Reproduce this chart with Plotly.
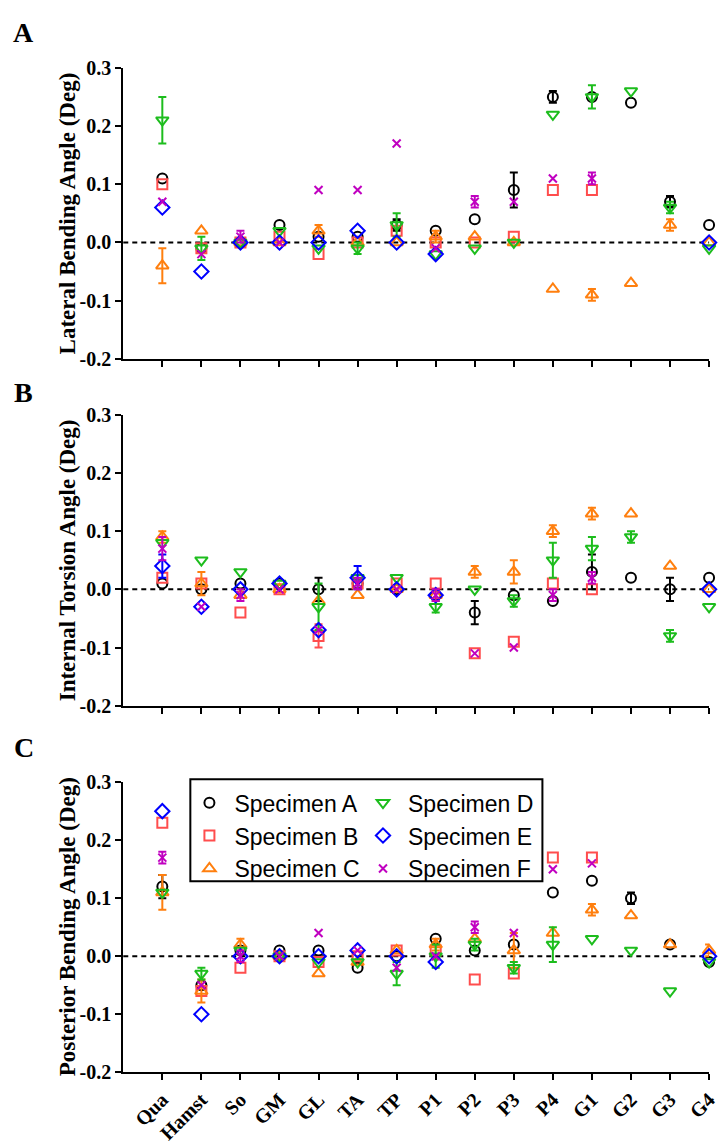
import plotly.graph_objects as go

# ---------------- data ----------------
categories = ["Qua", "Hamst", "So", "GM", "GL", "TA", "TP", "P1", "P2", "P3",
              "P4", "G1", "G2", "G3", "G4"]
specimens = ["Specimen A", "Specimen B", "Specimen C",
             "Specimen D", "Specimen E", "Specimen F"]
ytick_vals = [-0.2, -0.1, 0.0, 0.1, 0.2, 0.3]
ytick_text = ["-0.2", "-0.1", "0.0", "0.1", "0.2", "0.3"]
panel_letters = ["A", "B", "C"]
panel_titles = ["Lateral Bending Angle (Deg)",
                "Internal Torsion Angle (Deg)",
                "Posterior Bending Angle (Deg)"]
N = None

# Panel A: lateral bending
lat_A = [0.11, -0.01, 0.00, 0.03, 0.01, 0.01, 0.03, 0.02, 0.04, 0.09, 0.25, 0.25, 0.24, 0.07, 0.03]
lat_B = [0.10, -0.01, 0.00, 0.01, -0.02, 0.00, 0.02, 0.00, 0.00, 0.01, 0.09, 0.09, N, N, N]
lat_C = [-0.04, 0.02, 0.00, 0.00, 0.02, 0.00, 0.00, 0.01, 0.01, 0.00, -0.08, -0.09, -0.07, 0.03, 0.00]
lat_D = [0.21, -0.01, 0.00, 0.02, -0.01, -0.01, 0.03, -0.02, -0.01, 0.00, 0.22, 0.25, 0.26, 0.06, -0.01]
lat_E = [0.06, -0.05, 0.00, 0.00, 0.00, 0.02, 0.00, -0.02, N, N, N, N, N, N, 0.00]
lat_F = [0.07, -0.02, 0.01, 0.00, 0.09, 0.09, 0.17, -0.01, 0.07, 0.07, 0.11, 0.11, N, N, N]
lat_A_err = [N, N, N, N, N, N, 0.01, N, N, 0.03, 0.01, N, N, 0.01, N]
lat_B_err = [N] * 15
lat_C_err = [0.03, N, N, N, 0.01, N, N, 0.01, N, N, N, 0.01, N, 0.01, N]
lat_D_err = [0.04, 0.02, N, N, N, 0.01, 0.02, N, N, N, N, 0.02, N, 0.01, N]
lat_E_err = [N] * 15
lat_F_err = [N, N, 0.01, N, N, N, N, N, 0.01, N, N, 0.01, N, N, N]

# Panel B: internal torsion
tor_A = [0.01, 0.00, 0.01, 0.01, 0.00, 0.01, 0.00, -0.01, -0.04, -0.01, -0.02, 0.03, 0.02, 0.00, 0.02]
tor_B = [0.02, 0.01, -0.04, 0.00, -0.08, 0.01, 0.01, 0.01, -0.11, -0.09, 0.01, 0.00, N, N, N]
tor_C = [0.09, 0.01, -0.01, 0.00, -0.02, -0.01, 0.00, -0.01, 0.03, 0.03, 0.10, 0.13, 0.13, 0.04, 0.00]
tor_D = [0.08, 0.05, 0.03, 0.01, -0.03, 0.02, 0.02, -0.03, 0.00, -0.02, 0.05, 0.07, 0.09, -0.08, -0.03]
tor_E = [0.04, -0.03, 0.00, 0.01, -0.07, 0.02, 0.00, -0.01, N, N, N, N, N, N, 0.00]
tor_F = [0.07, -0.03, -0.01, 0.00, -0.07, 0.01, 0.00, -0.01, -0.11, -0.10, -0.01, 0.02, N, N, N]
tor_A_err = [N, N, N, N, 0.02, N, N, N, 0.02, N, N, 0.03, N, 0.02, N]
tor_B_err = [N, N, N, N, 0.02, N, N, N, N, N, N, N, N, N, N]
tor_C_err = [0.01, 0.02, N, N, N, N, N, N, 0.01, 0.02, 0.01, 0.01, N, N, N]
tor_D_err = [N, N, N, N, 0.04, N, N, 0.01, N, 0.01, 0.03, 0.02, 0.01, 0.01, N]
tor_E_err = [0.02, N, N, N, N, 0.02, N, N, N, N, N, N, N, N, N]
tor_F_err = [0.02, N, 0.01, N, N, 0.01, N, 0.01, N, N, 0.01, 0.01, N, N, N]

# Panel C: posterior bending
pos_A = [0.12, -0.05, 0.01, 0.01, 0.01, -0.02, 0.00, 0.03, 0.01, 0.02, 0.11, 0.13, 0.10, 0.02, -0.01]
pos_B = [0.23, -0.06, -0.02, 0.00, -0.01, 0.00, 0.01, 0.01, -0.04, -0.03, 0.17, 0.17, N, N, N]
pos_C = [0.11, -0.06, 0.02, 0.00, -0.03, -0.01, 0.01, 0.02, 0.03, 0.01, 0.04, 0.08, 0.07, 0.02, 0.01]
pos_D = [0.11, -0.03, 0.01, 0.00, -0.01, -0.01, -0.03, 0.00, 0.02, -0.02, 0.02, 0.03, 0.01, -0.06, -0.01]
pos_E = [0.25, -0.10, 0.00, 0.00, 0.00, 0.01, 0.00, -0.01, N, N, N, N, N, N, 0.00]
pos_F = [0.17, -0.05, 0.00, 0.00, 0.04, 0.01, -0.02, 0.00, 0.05, 0.04, 0.15, 0.16, N, N, N]
pos_A_err = [0.02, N, N, N, N, N, N, N, N, N, N, N, 0.01, N, N]
pos_B_err = [N] * 15
pos_C_err = [0.03, 0.02, 0.01, N, N, N, N, 0.01, N, 0.03, N, 0.01, N, N, 0.01]
pos_D_err = [N, 0.01, N, N, N, N, 0.02, 0.02, 0.01, 0.01, 0.03, N, N, N, N]
pos_E_err = [N] * 15
pos_F_err = [0.01, N, 0.01, N, N, N, N, N, 0.01, N, N, N, N, N, N]

panel_values = [
    [lat_A, lat_B, lat_C, lat_D, lat_E, lat_F],
    [tor_A, tor_B, tor_C, tor_D, tor_E, tor_F],
    [pos_A, pos_B, pos_C, pos_D, pos_E, pos_F],
]
panel_errors = [
    [lat_A_err, lat_B_err, lat_C_err, lat_D_err, lat_E_err, lat_F_err],
    [tor_A_err, tor_B_err, tor_C_err, tor_D_err, tor_E_err, tor_F_err],
    [pos_A_err, pos_B_err, pos_C_err, pos_D_err, pos_E_err, pos_F_err],
]

# ---------------- style ----------------
W, H = 725, 1144
X0, X1 = 125, 719
panel_px = [(58, 355), (412, 709), (787, 1083)]
letter_y = [22, 389, 752]
colors = ["#000000", "#ff4d4d", "#ff7f0e", "#1dbd1d", "#0000ff", "#c000c0"]
symbols = ["circle-open", "square-open", "triangle-up-open",
           "triangle-down-open", "diamond-open", "x-thin-open"]
sizes = [10, 10, 11, 11, 11, 8]
SERIF = "Liberation Serif"
SANS = "Liberation Sans"

fig = go.Figure()

for p in range(3):
    xa = "x" if p == 0 else f"x{p + 1}"
    ya = "y" if p == 0 else f"y{p + 1}"
    for s in range(6):
        vals = panel_values[p][s]
        errs = panel_errors[p][s]
        ex = [c for c, v, e in zip(categories, vals, errs) if e is not None and v is not None]
        ey = [v for v, e in zip(vals, errs) if e is not None and v is not None]
        ee = [e for v, e in zip(vals, errs) if e is not None and v is not None]
        if ee:
            fig.add_trace(go.Scatter(
                x=ex, y=ey, mode="markers", xaxis=xa, yaxis=ya,
                marker=dict(size=1, color="rgba(0,0,0,0)"),
                error_y=dict(type="data", array=ee, color=colors[s],
                             thickness=2, width=4),
                showlegend=False, hoverinfo="skip", cliponaxis=False))
        fig.add_trace(go.Scatter(
            x=categories, y=vals, mode="markers", xaxis=xa, yaxis=ya,
            name=specimens[s],
            marker=dict(symbol=symbols[s], size=sizes[s], color=colors[s],
                        line=dict(width=2, color=colors[s])),
            showlegend=(p == 2),
            legend="legend" if s < 3 else "legend2",
            cliponaxis=False))

layout = dict(
    width=W, height=H,
    margin=dict(l=0, r=0, t=0, b=0),
    paper_bgcolor="white", plot_bgcolor="white",
    showlegend=True,
    legend=dict(x=187 / W, y=1 - 786 / H, xanchor="left", yanchor="top",
                font=dict(family=SANS, size=23, color="black"),
                bgcolor="rgba(0,0,0,0)", borderwidth=0, tracegroupgap=0,
                itemwidth=40),
    legend2=dict(x=363 / W, y=1 - 786 / H, xanchor="left", yanchor="top",
                 font=dict(family=SANS, size=23, color="black"),
                 bgcolor="rgba(0,0,0,0)", borderwidth=0, tracegroupgap=0,
                 itemwidth=40),
)

annotations = []
shapes = []
for p in range(3):
    xn = "xaxis" if p == 0 else f"xaxis{p + 1}"
    yn = "yaxis" if p == 0 else f"yaxis{p + 1}"
    xa = "x" if p == 0 else f"x{p + 1}"
    ya = "y" if p == 0 else f"y{p + 1}"
    top, bot = panel_px[p]
    layout[xn] = dict(
        domain=[X0 / W, X1 / W], anchor=ya, type="category",
        categoryorder="array", categoryarray=categories,
        range=[-1, len(categories) - 1],
        showline=True, linecolor="black", linewidth=2,
        ticks="outside", ticklen=6, tickwidth=2, tickcolor="black",
        showgrid=False, zeroline=False, showticklabels=(p == 2),
        tickangle=-45,
        tickfont=dict(family=SERIF, size=20, color="black", weight="bold"))
    layout[yn] = dict(
        domain=[1 - bot / H, 1 - top / H], anchor=xa,
        range=[-0.2, 0.3], tickvals=ytick_vals, ticktext=ytick_text,
        showline=True, linecolor="black", linewidth=2,
        ticks="outside", ticklen=6, tickwidth=2, tickcolor="black",
        showgrid=False, zeroline=False,
        tickfont=dict(family=SERIF, size=20, color="black", weight="bold"))
    shapes.append(dict(type="line", xref=f"{xa} domain", yref=ya,
                       x0=0, x1=1, y0=0, y1=0, layer="below",
                       line=dict(color="black", width=2, dash="5px,4px")))
    annotations.append(dict(
        text=panel_titles[p], x=68 / W, xref="paper", y=0.5, yref=f"{ya} domain",
        textangle=-90, showarrow=False, xanchor="center", yanchor="middle",
        font=dict(family=SERIF, size=23, color="black", weight="bold")))
    annotations.append(dict(
        text=panel_letters[p], x=24 / W, xref="paper", y=1 - letter_y[p] / H,
        yref="paper", showarrow=False, xanchor="center", yanchor="middle",
        font=dict(family=SERIF, size=28, color="black", weight="bold")))

# legend frame
shapes.append(dict(type="rect", xref="paper", yref="paper",
                   x0=193 / W, x1=550 / W, y0=1 - 888 / H, y1=1 - 784 / H,
                   line=dict(color="black", width=2), fillcolor="rgba(0,0,0,0)"))

layout["annotations"] = annotations
layout["shapes"] = shapes
fig.update_layout(**layout)

fig.write_html("out.html")
